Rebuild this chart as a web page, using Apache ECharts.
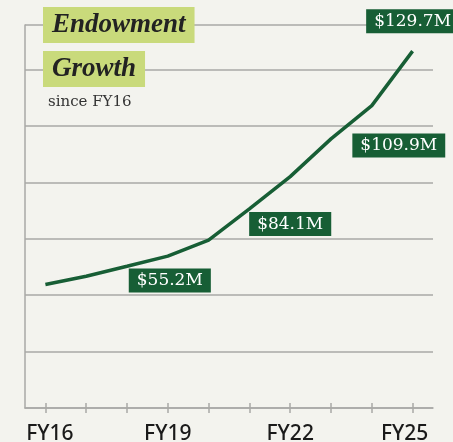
<!DOCTYPE html>
<html>
<head>
<meta charset="utf-8">
<script src="https://cdn.jsdelivr.net/npm/echarts@6/dist/echarts.min.js"></script>
<style>
	html, body { margin: 0; padding: 0; background: #f3f3ee; }
	#chart { width: 453px; height: 442px; }
</style>
</head>
<body>
<div id="chart"></div>
<script>
// fiscal years and endowment value ($M)
var years = [ 'FY16', 'FY17', 'FY18', 'FY19', 'FY20', 'FY21', 'FY22', 'FY23', 'FY24', 'FY25' ];
var endowment = [ 44.9, 47.9, 51.5, 55.2, 61.0, 72.4, 84.1, 97.8, 109.9, 129.7 ];
// which years get a value box
var labelled = [ 'FY19', 'FY22', 'FY24', 'FY25' ];
var titleLines = [ 'Endowment', 'Growth' ];
var subtitle = 'since FY16';

var green = '#175e35';
var lime = '#c9da7b';
var gray = '#a9a9a6';

// box placement relative to the point: [centre dx, top dy]
var labelPos = {
	FY19 : [ 2, 12.5 ],
	FY22 : [ 0, 35.5 ],
	FY24 : [ 27, 28 ],
	FY25 : [ 0, -42 ]
};

var seriesData = endowment.map(function(v, i) {
	var item = { value : v };
	if (labelled.indexOf(years[i]) >= 0) {
		item.label = {
			show : true,
			position : labelPos[years[i]],
			align : 'center',
			verticalAlign : 'top'
		};
	}
	return item;
});

var chart = echarts.init(document.getElementById('chart'));
var titleFont = {
	fontFamily : 'Liberation Serif',
	fontStyle : 'italic',
	fontWeight : 'bold',
	fontSize : 27,
	lineHeight : 29,
	color : '#222'
};
var option = {
	backgroundColor : '#f3f3ee',
	animation : false,
	title : [ {
		text : titleLines[0],
		left : 43,
		top : 7,
		backgroundColor : lime,
		padding : [ 4, 9, 3, 9 ],
		textStyle : titleFont
	}, {
		text : titleLines[1],
		left : 43,
		top : 51,
		backgroundColor : lime,
		padding : [ 4, 9, 3, 9 ],
		textStyle : titleFont
	}, {
		text : subtitle,
		left : 48,
		top : 95,
		padding : 0,
		textStyle : {
			fontFamily : 'DejaVu Serif',
			fontWeight : 'normal',
			fontSize : 15,
			color : '#333'
		}
	} ],
	grid : {
		left : 25,
		right : 20,
		top : 25,
		bottom : 34,
		containLabel : false,
		outerBoundsMode : 'none'
	},
	xAxis : [ {
		type : 'category',
		data : years,
		boundaryGap : true,
		axisLine : { lineStyle : { color : gray, width : 1.5 } },
		axisTick : {
			show : true,
			interval : 0,
			alignWithLabel : true,
			length : 5,
			lineStyle : { color : gray, width : 1.5 }
		},
		axisLabel : {
			interval : 2,
			margin : 16,
			fontFamily : 'Noto Sans',
			fontWeight : 500,
			fontSize : 21,
			color : '#1a1a1a',
			formatter : function(v, i) {
				if (i === 0) return '{first|' + v + '}';
				if (i === years.length - 1) return '{last|' + v + '}';
				return v;
			},
			rich : {
				first : { padding : [ 0, 0, 0, 9 ] },
				last : { padding : [ 0, 16, 0, 0 ] }
			}
		}
	}, {
		type : 'category',
		data : years,
		position : 'bottom',
		boundaryGap : true,
		axisLine : { show : false },
		axisTick : {
			show : true,
			interval : 0,
			inside : true,
			alignWithLabel : true,
			length : 5,
			lineStyle : { color : gray, width : 1.5 }
		},
		axisLabel : { show : false }
	} ],
	yAxis : {
		type : 'value',
		min : 0,
		max : 139.2,
		interval : 20.5,
		axisLine : { show : true, lineStyle : { color : gray, width : 1.5 } },
		axisTick : { show : false },
		axisLabel : { show : false },
		splitLine : { lineStyle : { color : gray, width : 1.5 } }
	},
	series : [ {
		type : 'line',
		data : seriesData,
		symbol : 'circle',
		symbolSize : 0,
		showSymbol : true,
		lineStyle : { color : green, width : 3.5 },
		itemStyle : { color : green },
		label : {
			show : false,
			formatter : function(p) {
				return '$' + p.value.toFixed(1) + 'M';
			},
			backgroundColor : green,
			color : '#fff',
			fontFamily : 'DejaVu Serif',
			fontSize : 17,
			lineHeight : 18,
			padding : [ 3, 8, 3, 8 ]
		},
		labelLayout : { hideOverlap : false },
		z : 5
	} ]
};
chart.setOption(option);
</script>
</body>
</html>
